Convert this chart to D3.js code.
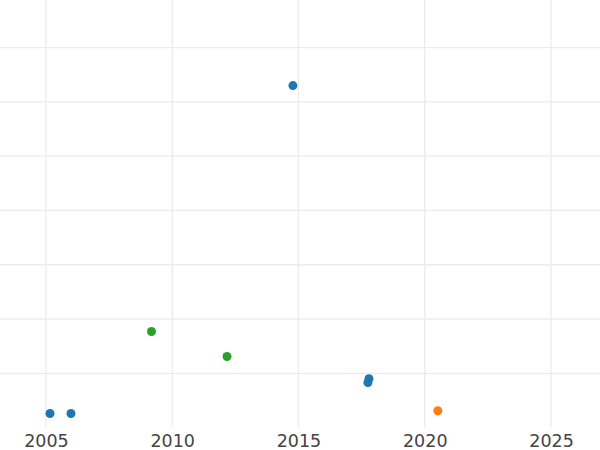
<!DOCTYPE html>
<html>
<head>
<meta charset="utf-8">
<script src="https://cdn.jsdelivr.net/npm/d3@7"></script>
<style>
  html, body { margin: 0; padding: 0; background: #fff; }
  svg { display: block; }
</style>
</head>
<body>
<svg id="chart" width="600" height="450"></svg>
<script>
// ---- data ----
const xTicks = [2005, 2010, 2015, 2020, 2025];
const yTicks = [1, 2, 3, 4, 5, 6, 7];
const seriesNames = ["blue", "green", "orange"];
const seriesColors = ["#1f77b4", "#2ca02c", "#ff7f0e"];
const blueX = [2005.16, 2005.99, 2014.78, 2017.79, 2017.75];
const blueY = [0.26, 0.26, 6.30, 0.90, 0.83];
const greenX = [2009.18, 2012.17];
const greenY = [1.77, 1.31];
const orangeX = [2020.52];
const orangeY = [0.31];

const series = [
  { name: seriesNames[0], color: seriesColors[0], xs: blueX, ys: blueY },
  { name: seriesNames[1], color: seriesColors[1], xs: greenX, ys: greenY },
  { name: seriesNames[2], color: seriesColors[2], xs: orangeX, ys: orangeY }
];

const W = 600, H = 450;
const plotBottom = 427.6;
const svg = d3.select("#chart");

const x = d3.scaleLinear().domain([2003.18, 2026.94]).range([0, W]);
const y = d3.scaleLinear().domain([0, 7.865]).range([plotBottom, 0.6]);

const grid = svg.append("g");
// horizontal gridlines
grid.selectAll("line.h").data(yTicks).enter().append("line")
  .attr("x1", 0).attr("x2", W)
  .attr("y1", d => y(d)).attr("y2", d => y(d))
  .attr("stroke", "#ebebeb").attr("stroke-width", 1.3);
// vertical gridlines
grid.selectAll("line.v").data(xTicks).enter().append("line")
  .attr("x1", d => x(d)).attr("x2", d => x(d))
  .attr("y1", 0).attr("y2", 427)
  .attr("stroke", "#ebebeb").attr("stroke-width", 1.3);

// x axis labels
const xAxis = d3.axisBottom(x).tickValues(xTicks).tickFormat(d3.format("d")).tickSize(0).tickPadding(0);
const ax = svg.append("g").attr("transform", "translate(0,427)").call(xAxis);
ax.select(".domain").remove();
ax.selectAll("text")
  .attr("y", 20).attr("dy", null)
  .attr("fill", "#444")
  .style("font-family", "'DejaVu Sans', sans-serif")
  .style("font-size", "17.5px");

// points
series.forEach(s => {
  svg.append("g").selectAll("circle").data(s.xs.map((v, i) => [v, s.ys[i]])).enter()
    .append("circle")
    .attr("cx", d => x(d[0])).attr("cy", d => y(d[1]))
    .attr("r", 4.5)
    .attr("fill", s.color);
});
</script>
</body>
</html>
